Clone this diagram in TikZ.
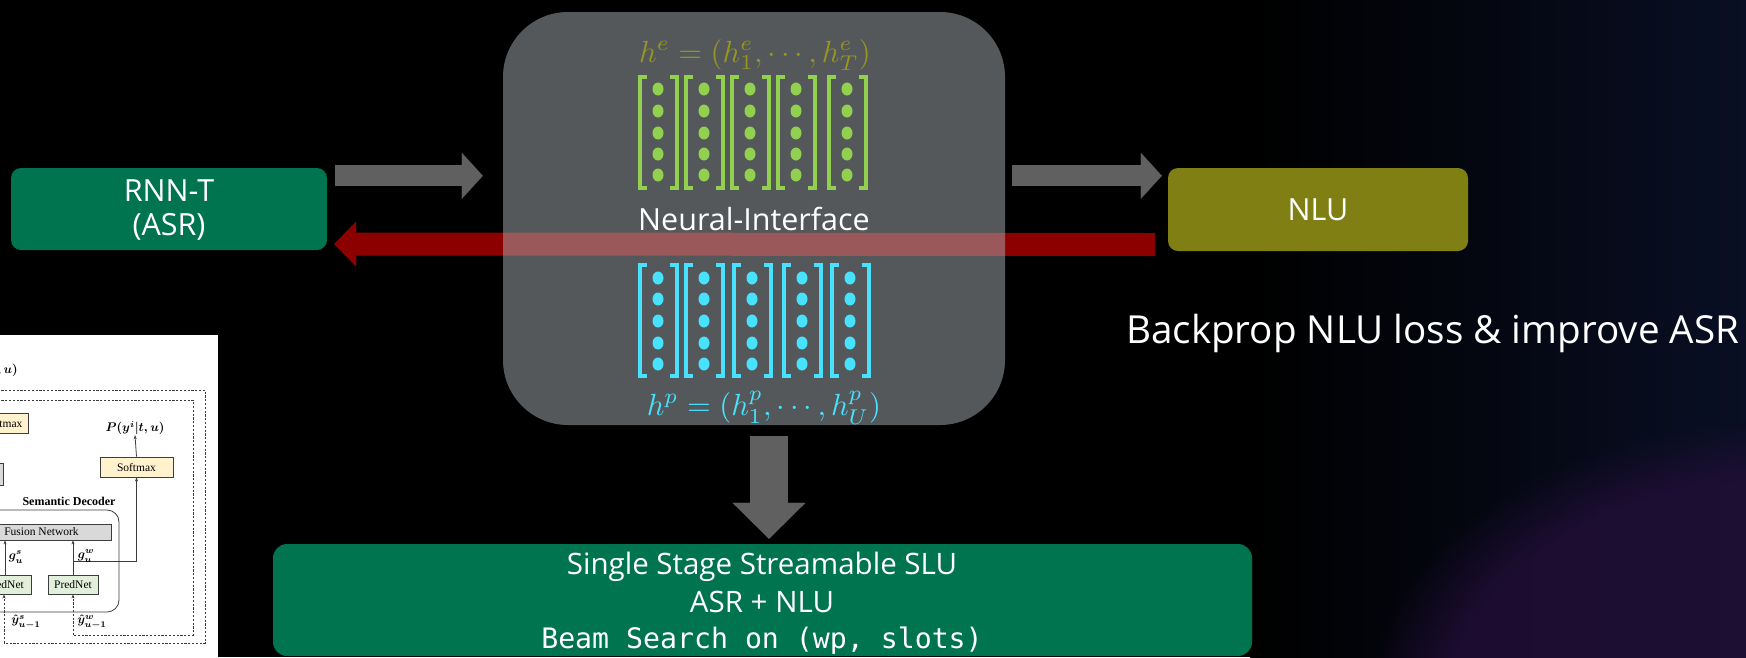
\documentclass[tikz,border=0pt]{standalone}
\usepackage{fontspec}
\newfontfamily\ember{Open Sans}
\newfontfamily\embermono{DejaVu Sans Mono}
\newfontfamily\paperserif{Liberation Serif}
\usetikzlibrary{arrows.meta,calc,fadings}

\definecolor{bgnavy}{RGB}{9,15,36}
\definecolor{glowpurple}{RGB}{34,14,56}
\definecolor{asrgreen}{RGB}{0,115,79}
\definecolor{nluolive}{RGB}{127,127,20}
\definecolor{flowgray}{RGB}{96,96,96}
\definecolor{backred}{RGB}{140,0,0}
\definecolor{panelgray}{RGB}{170,176,180}
\definecolor{vecgreen}{RGB}{146,208,80}
\definecolor{veccyan}{RGB}{72,226,255}
\definecolor{formolive}{RGB}{150,150,30}
\definecolor{inkgray}{RGB}{60,60,60}
\definecolor{softyellow}{RGB}{255,242,204}
\definecolor{predgreen}{RGB}{226,239,218}
\definecolor{fusegray}{RGB}{217,217,217}

\begin{document}
\begin{tikzpicture}[x=1pt,y=-1pt,
  blockbox/.style={rounded corners=10pt, inner sep=0pt, text=white},
  flow/.style={draw=flowgray, line width=21pt,
    -{Triangle[length=21pt,width=46pt,line width=0.01pt]}},
  backflow/.style={draw=backred, line width=23pt,
    -{Triangle[length=22pt,width=45pt,line width=0.01pt]}},
  downflow/.style={draw=flowgray, line width=38pt,
    -{Triangle[length=36pt,width=73pt,line width=0.01pt]}},
  sanslabel/.style={text=white, inner sep=0pt, font=\ember\fontsize{30.5}{34}\selectfont},
  bracketline/.style={line width=4pt, line join=miter, line cap=butt},
  papertext/.style={inner sep=0pt, font=\paperserif\fontsize{12}{14}\selectfont},
  papermath/.style={inner sep=0pt, scale=1.25, font=\boldmath},
  paperbox/.style={draw=inkgray, line width=0.8pt, inner sep=0pt, font=\paperserif\fontsize{11.5}{13}\selectfont},
  thinarrow/.style={draw=inkgray, line width=0.8pt, -{Stealth[length=4pt,width=3pt]}},
  dashline/.style={draw=inkgray, line width=0.8pt, dash pattern=on 2.2pt off 1.6pt, -{Stealth[length=4pt,width=3pt]}}
]
% background
\fill[black] (0,0) rectangle (1746,657);
\useasboundingbox (0,0) rectangle (1746,657);
\shade[left color=black, right color=bgnavy] (1250,0) rectangle (1746,657);
\fill[glowpurple, path fading=circle with fuzzy edge 20 percent, fill opacity=0.8] (1780,720) ellipse (420 and 300);

% main blocks
\node[blockbox, fill=asrgreen, minimum width=316pt, minimum height=82pt] (rnn) at (169,209) {};
\node[sanslabel, align=center, font=\ember\fontsize{30.5}{34}\selectfont] (rnnlabel) at (169,210) {RNN-T\\(ASR)};
\node[blockbox, fill=nluolive, minimum width=300pt, minimum height=83pt] (nlu) at (1318,209.5) {};
\node[sanslabel, anchor=base] (nlulabel) at (1318,220) {NLU};

% back-propagation path (under the interface panel)
\draw[backflow] ($(nlu.west)+(-13,35)$) -- ($(rnn.east)+(7,35)$);

% neural interface panel
\node[fill=panelgray, fill opacity=0.5, rounded corners=65pt, minimum width=502pt, minimum height=413pt, inner sep=0pt] (ni) at (754,218.5) {};
\node[sanslabel, anchor=base] (nilabel) at (754,230) {Neural-Interface};

% forward arrows
\draw[flow] ($(rnn.north east)+(8,8)$) -- ($(ni.west |- rnn.north)+(-20,8)$);
\draw[flow] ($(ni.east |- nlu.north)+(7,8)$) -- ($(nlu.north west)+(-6,8)$);

% encoder vectors
\node[anchor=base, scale=3.06, inner sep=0pt, text=formolive] (he) at (755,62) {$h^e=(h^e_1,\cdots,h^e_T)$};
\foreach \dx in {658,704,750,796,847}{
  \draw[vecgreen, bracketline] (\dx-11,77) -- (\dx-18,77) -- (\dx-18,188) -- (\dx-11,188);
  \draw[vecgreen, bracketline] (\dx+12,77) -- (\dx+19,77) -- (\dx+19,188) -- (\dx+12,188);
  \foreach \dy in {89,111,133,154,175}
    \fill[vecgreen] (\dx,\dy) ellipse (5.5 and 6.5);
}

% prediction vectors
\foreach \dx in {658,704,752,802,850}{
  \draw[veccyan, bracketline] (\dx-11,265) -- (\dx-18,265) -- (\dx-18,376) -- (\dx-11,376);
  \draw[veccyan, bracketline] (\dx+12,265) -- (\dx+19,265) -- (\dx+19,376) -- (\dx+12,376);
  \foreach \dy in {278,299,321,343,364}
    \fill[veccyan] (\dx,\dy) ellipse (5.5 and 6.5);
}
\node[anchor=base, scale=3.06, inner sep=0pt, text=veccyan] (hp) at (764,415) {$h^p=(h^p_1,\cdots,h^p_U)$};

% joint SLU block
\node[blockbox, rounded corners=14pt, fill=asrgreen, minimum width=979pt, minimum height=112pt] (slu) at (762.5,600) {};
\node[sanslabel, anchor=base, font=\ember\fontsize{29.5}{34}\selectfont] (slu1) at (762,574) {Single Stage Streamable SLU};
\node[sanslabel, anchor=base, font=\ember\fontsize{29.5}{34}\selectfont] (slu2) at (762,612) {ASR + NLU};
\node[text=white, inner sep=0pt, anchor=base, font=\embermono\fontsize{28.2}{32}\selectfont] (slu3) at (762,648) {Beam Search on (wp, slots)};
\draw[downflow] ($(ni.south)+(15,11)$) -- ($(slu.north)+(6.5,-5)$);

% caption
\node[sanslabel, anchor=base west, font=\ember\fontsize{38.6}{42}\selectfont] (caption) at (1126,343) {Backprop NLU loss \& improve ASR};

% paper figure excerpt
\begin{scope}
  \clip (0,335) rectangle (218,657);
  \fill[white] (0,335) rectangle (218,657);
  \node[papermath, anchor=base east] (pys) at (18,373) {$P(y^s|t,u)$};
  \draw[dashline, -] (-10,390) -- (205,390) -- (205,643) -- (4,643);
  \draw[dashline, -] (-10,400) -- (193,400) -- (193,635) -- (73,635);
  \node[paperbox, fill=softyellow, minimum width=50pt, minimum height=20pt] (smL) at (3,423) {Softmax};
  \node[paperbox, fill=softyellow, minimum width=73pt, minimum height=20pt] (smR) at (136.5,467) {Softmax};
  \node[papermath] (pyi) at (135,428) {$P(y^i|t,u)$};
  \draw[thinarrow] (smR.north) -- (pyi.south);
  \node[paperbox, fill=fusegray, minimum width=46pt, minimum height=22pt] (encL) at (-20,474) {};
  \node[papertext, font=\paperserif\bfseries\fontsize{12}{14}\selectfont, anchor=base] (semlabel) at (69,505) {Semantic Decoder};
  \node[draw=inkgray, line width=0.8pt, rounded corners=12pt, minimum width=180pt, minimum height=102pt] (dec) at (29,561) {};
  \node[paperbox, fill=fusegray, minimum width=139pt, minimum height=16pt] (fuse) at (41.5,532) {Fusion Network};
  \node[paperbox, fill=predgreen, minimum width=52pt, minimum height=19pt] (predL) at (5,584.5) {PredNet};
  \node[paperbox, fill=predgreen, minimum width=50pt, minimum height=19pt] (predR) at (73,584.5) {PredNet};
  \draw[thinarrow] (predL.north) -- (predL.north |- fuse.south);
  \draw[thinarrow] (predR.north) -- (predR.north |- fuse.south);
  \draw[thinarrow] ($(predR.north)+(0,-13)$) -| (smR.south);
  \node[papermath] (gs) at (16,557) {$g^s_u$};
  \node[papermath] (gw) at (86,556) {$g^w_u$};
  \draw[dashline] (4,643) -- (4,594.5);
  \draw[dashline] (73,635) -- (predR.south);
  \node[papermath] (ys) at (26,622) {$\hat y^s_{u-1}$};
  \node[papermath] (yw) at (92,622) {$\hat y^w_{u-1}$};
\end{scope}
\end{tikzpicture}
\end{document}
